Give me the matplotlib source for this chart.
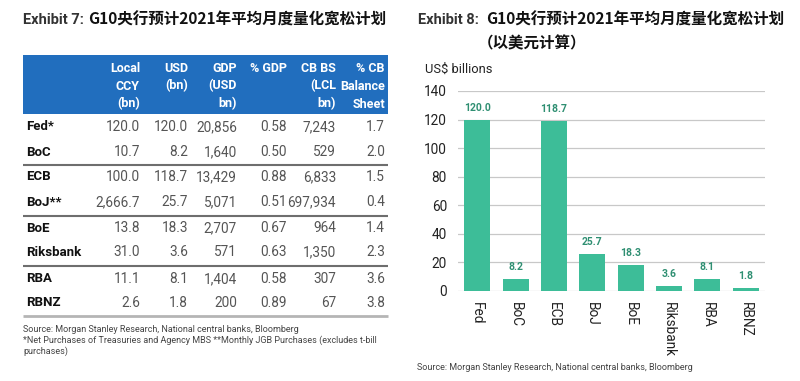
import matplotlib
matplotlib.use("Agg")
import matplotlib.pyplot as plt
from matplotlib.patches import Rectangle

# ---------------- data ----------------
banks = ["Fed", "BoC", "ECB", "BoJ", "BoE", "Riksbank", "RBA", "RBNZ"]
usd_bn = [120.0, 8.2, 118.7, 25.7, 18.3, 3.6, 8.1, 1.8]

row_labels = ["Fed*", "BoC", "ECB", "BoJ**", "BoE", "Riksbank", "RBA", "RBNZ"]
col_headers = [["Local", "CCY", "(bn)"], ["USD", "(bn)"], ["GDP", "(USD", "bn)"],
               ["% GDP"], ["CB BS", "(LCL", "bn)"], ["% CB", "Balance", "Sheet"]]
local_ccy = ["120.0", "10.7", "100.0", "2,666.7", "13.8", "31.0", "11.1", "2.6"]
usd_col = ["120.0", "8.2", "118.7", "25.7", "18.3", "3.6", "8.1", "1.8"]
gdp_col = ["20,856", "1,640", "13,429", "5,071", "2,707", "571", "1,404", "200"]
pct_gdp = ["0.58", "0.50", "0.88", "0.51", "0.67", "0.63", "0.58", "0.89"]
cb_bs = ["7,243", "529", "6,833", "697,934", "964", "1,350", "307", "67"]
pct_cb = ["1.7", "2.0", "1.5", "0.4", "1.4", "2.3", "3.6", "3.8"]

yticks = [0, 20, 40, 60, 80, 100, 120, 140]

title_cn = "G10央行预计2021年平均月度量化宽松计划"
title2_cn = "（以美元计算）"
source_txt = "Source: Morgan Stanley Research, National central banks, Bloomberg"
note_txt1 = "*Net Purchases of Treasuries and Agency MBS **Monthly JGB Purchases (excludes t-bill"
note_txt2 = "purchases)"

# ---------------- style ----------------
BLUE = "#216EBE"
GREEN = "#3DBD98"
GREEN_TXT = "#2F8F72"
GRAY_VAL = "#555555"
CJK = ["Noto Sans CJK SC", "DejaVu Sans"]
LAT = ["Roboto", "DejaVu Sans"]

W, H = 800, 381
fig = plt.figure(figsize=(W / 100, H / 100), dpi=100)
fig.patch.set_facecolor("white")

# overlay axes in pixel coordinates (y downward)
ov = fig.add_axes([0, 0, 1, 1])
ov.set_xlim(0, W)
ov.set_ylim(H, 0)
ov.axis("off")

# ---- left panel title ----
ov.text(23, 20, "Exhibit 7:", family=LAT, weight="bold", fontsize=10.5,
        color="#333333", va="center", ha="left")
ov.text(88, 20, title_cn, family=CJK, weight="bold", fontsize=11.2,
        color="#111111", va="center", ha="left")

# ---- table header ----
ov.add_patch(Rectangle((23, 55), 365, 59, facecolor=BLUE, edgecolor="none"))
col_right = [140, 188, 237, 287, 336, 385]
head_y = [68, 86, 104]
for x, lines in zip(col_right, col_headers):
    for y, ln in zip(head_y, lines):
        ov.text(x, y, ln, family=LAT, weight="bold", fontsize=9.0,
                color="white", ha="right", va="center")

# ---- table rows ----
row_y = [127, 152, 177, 202, 228, 252, 279, 303]
cols = [local_ccy, usd_col, gdp_col, pct_gdp, cb_bs, pct_cb]
for i, (lab, y) in enumerate(zip(row_labels, row_y)):
    ov.text(26, y, lab, family=LAT, weight="bold", fontsize=9.5,
            color="#111111", ha="left", va="center")
    for x, col in zip(col_right, cols):
        ov.text(x, y, col[i], family=LAT, fontsize=9.8, color=GRAY_VAL,
                ha="right", va="center")

for y in [165, 216, 266]:
    ov.plot([23, 388], [y, y], color="#6E6E6E", lw=1.5, solid_capstyle="butt")
ov.plot([23, 388], [316, 316], color="#B5B5B5", lw=2.0, solid_capstyle="butt")

ov.text(23, 329, source_txt, family=LAT, fontsize=6.5, color="#444444",
        ha="left", va="center")
ov.text(23, 340, note_txt1, family=LAT, fontsize=6.5, color="#444444",
        ha="left", va="center")
ov.text(23, 351, note_txt2, family=LAT, fontsize=6.5, color="#444444",
        ha="left", va="center")

# ---- right panel title ----
ov.text(418, 20, "Exhibit 8:", family=LAT, weight="bold", fontsize=10.5,
        color="#333333", va="center", ha="left")
ov.text(486, 20, title_cn, family=CJK, weight="bold", fontsize=11.2,
        color="#111111", va="center", ha="left")
ov.text(478, 43, title2_cn, family=CJK, weight="bold", fontsize=11.2,
        color="#111111", va="center", ha="left")
ov.text(425, 69, "US$ billions", family=LAT, fontsize=9.3, color="#222222",
        va="center", ha="left")
ov.text(417, 367, source_txt, family=LAT, fontsize=6.5, color="#444444",
        ha="left", va="center")

# ---- bar chart ----
x0, x1, y0, y1 = 458, 765, 291, 91
ax = fig.add_axes([x0 / W, (H - y0) / H, (x1 - x0) / W, (y0 - y1) / H])
ax.set_facecolor("none")
xs = list(range(len(banks)))
ax.bar(xs, usd_bn, width=0.68, color=GREEN, zorder=3)
ax.set_xlim(-0.5, len(banks) - 0.5)
ax.set_ylim(0, 140)
ax.set_yticks(yticks)
ax.yaxis.grid(True, color="#C8C8C8", lw=0.9, zorder=0)
for s in ax.spines.values():
    s.set_visible(False)
ax.tick_params(axis="both", length=0)
ax.tick_params(axis="y", pad=8, labelsize=9.8, labelcolor="#222222")
ax.set_xticks(xs)
ax.set_xticklabels(banks, rotation=270, fontsize=9.8, color="#222222",
                   va="top", ha="center")
ax.tick_params(axis="x", pad=8)
for lbl in ax.get_yticklabels() + ax.get_xticklabels():
    lbl.set_family(LAT)
for x, v in zip(xs, usd_bn):
    ax.annotate(f"{v:.1f}", (x, v), xytext=(0, 5), textcoords="offset points",
                ha="center", va="bottom", fontsize=7.5, weight="bold",
                color=GREEN_TXT, family=LAT)

fig.savefig("out.png", dpi=100, facecolor="white")
